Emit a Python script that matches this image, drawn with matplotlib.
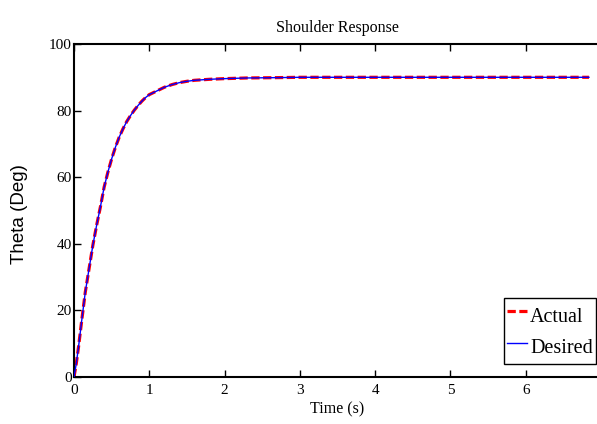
import matplotlib
matplotlib.use("Agg")
import matplotlib.pyplot as plt

# Data
time_s = [0.0, 0.03, 0.06, 0.1, 0.15, 0.2, 0.25, 0.3, 0.35, 0.4, 0.45, 0.5, 0.55,
          0.6, 0.65, 0.7, 0.75, 0.8, 0.85, 0.9, 0.95, 1.0, 1.1, 1.2, 1.3, 1.4,
          1.5, 1.6, 1.8, 2.0, 2.3, 2.7, 3.0, 3.5, 4.0, 5.0, 6.0, 6.84]
theta_actual = [0.0, 4.0, 9.0, 16.5, 25.5, 32.5, 39.5, 45.5, 51.0, 57.0, 61.5, 65.5, 69.0,
                72.0, 74.5, 76.7, 78.5, 80.1, 81.5, 82.8, 83.9, 84.8, 85.9, 87.0, 87.8, 88.4,
                88.8, 89.1, 89.4, 89.6, 89.8, 89.9, 90.0, 90.0, 90.0, 90.0, 90.0, 90.0]
theta_desired = [0.0, 4.0, 9.0, 16.5, 25.5, 32.5, 39.5, 45.5, 51.0, 57.0, 61.5, 65.5, 69.0,
                 72.0, 74.5, 76.7, 78.5, 80.1, 81.5, 82.8, 83.9, 84.8, 85.9, 87.0, 87.8, 88.4,
                 88.8, 89.1, 89.4, 89.6, 89.8, 89.9, 90.0, 90.0, 90.0, 90.0, 90.0, 90.0]
x_ticks = [0, 1, 2, 3, 4, 5, 6]
y_ticks = [0, 20, 40, 60, 80, 100]

W, H = 597, 424
fig = plt.figure(figsize=(W / 100, H / 100), dpi=100)
left, right, top, bottom = 74, 601, 44, 377
ax = fig.add_axes([left / W, (H - bottom) / H, (right - left) / W, (bottom - top) / H])

serif = "Liberation Serif"

ax.plot(time_s, theta_actual, color="#ff0000", lw=2.3, linestyle=(0, (2.6, 1.1)),
        label="Actual", zorder=2)
ax.plot(time_s, theta_desired, color="#0000ff", lw=1.0, label="Desired", zorder=3)

ax.set_xlim(0, 7)
ax.set_ylim(0, 100)
ax.set_xticks(x_ticks)
ax.set_yticks(y_ticks)
ax.tick_params(direction="in", length=5, width=1, top=True, right=False,
               labelsize=11, pad=1.5)
ax.tick_params(axis="x", pad=5)
for lab in ax.get_xticklabels() + ax.get_yticklabels():
    lab.set_fontfamily(serif)
for sp in ax.spines.values():
    sp.set_linewidth(1.5)

ax.set_title("Shoulder Response", fontfamily=serif, fontsize=11.5, pad=9)
ax.set_xlabel("Time (s)", fontfamily=serif, fontsize=11.5, labelpad=3)
ax.set_ylabel("Theta (Deg)", fontfamily="Liberation Sans", fontsize=13.5)
ax.yaxis.set_label_coords((28 - left) / (right - left), 0.49)

leg = ax.legend(loc="lower right", bbox_to_anchor=(596 / W, (H - 364) / H),
                bbox_transform=fig.transFigure, borderaxespad=0,
                prop={"family": serif, "size": 14.5}, fancybox=False,
                handlelength=1.0, handletextpad=0.15, borderpad=0.15,
                handleheight=1.8, labelspacing=0.15, framealpha=1, edgecolor="black")
leg.get_frame().set_linewidth(1.0)

fig.savefig("out.png", dpi=100)
